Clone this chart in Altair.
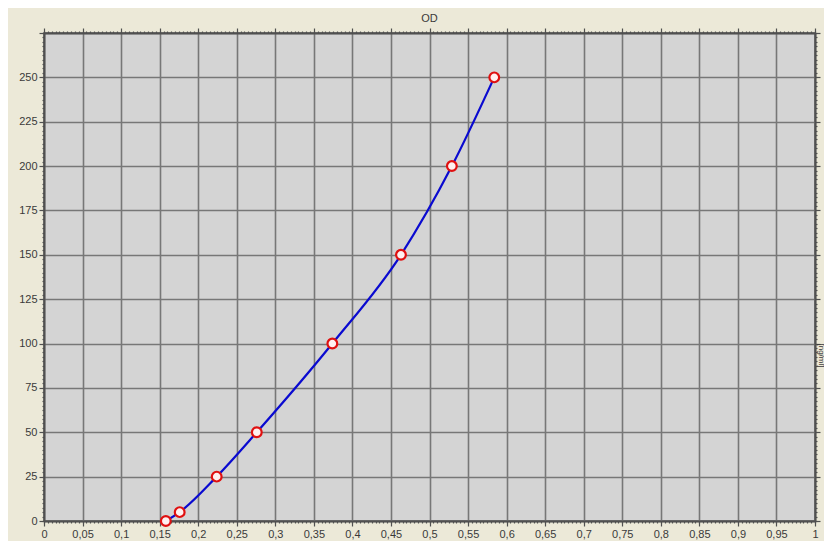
import altair as alt
import pandas as pd

# data
od = [0.158, 0.176, 0.224, 0.276, 0.374, 0.463, 0.529, 0.584]
conc = [0, 5, 25, 50, 100, 150, 200, 250]

x_major = [round(i * 0.05, 2) for i in range(21)]
x_minor = [round(i * 0.005, 3) for i in range(201)]
y_major_all = [i * 25 for i in range(12)]
y_minor = [i * 2.5 for i in range(111)]

df = pd.DataFrame({"od": od, "conc": conc})

GRID = "#777777"
AX = "#505050"
LAB = "#3a3a3a"
FONT = "Liberation Sans"

xs = alt.Scale(domain=[0, 1], nice=False, zero=False)
ys = alt.Scale(domain=[0, 275], nice=False, zero=False)

label_expr = "replace(format(datum.value, '.3~f'), '.', ',')"

base = alt.Chart(df)

main_line = base.mark_line(color="#0a0ad0", strokeWidth=2.2, interpolate="monotone").encode(
    x=alt.X("od:Q", scale=xs, title=None,
            axis=alt.Axis(orient="bottom", values=x_major, labelExpr=label_expr,
                          grid=True, gridColor=GRID, gridWidth=1.6, gridOpacity=1,
                          tickSize=5, tickColor=AX, tickWidth=1.2,
                          domainColor=AX, domainWidth=1.5,
                          labelFont=FONT, labelFontSize=11, labelColor=LAB,
                          labelPadding=2, labelFlush=False)),
    y=alt.Y("conc:Q", scale=ys, title=None,
            axis=alt.Axis(orient="left", values=y_major_all,
                          labelExpr="datum.value > 250 ? '' : datum.value",
                          grid=True, gridColor=GRID, gridWidth=1.6, gridOpacity=1,
                          tickSize=5, tickColor=AX, tickWidth=1.2,
                          domainColor=AX, domainWidth=1.5,
                          labelFont=FONT, labelFontSize=11, labelColor=LAB,
                          labelPadding=2, labelFlush=False)),
)

pts = base.mark_point(shape="circle", size=95, filled=True, fill="#fff0f0",
                      stroke="#e01010", strokeWidth=2.2, opacity=1).encode(
    x=alt.X("od:Q", scale=xs, axis=None),
    y=alt.Y("conc:Q", scale=ys, axis=None),
)


def tick_layer(xorient, yorient, xvals, yvals, size):
    return base.mark_point(opacity=0).encode(
        x=alt.X("od:Q", scale=xs, title=None,
                axis=alt.Axis(orient=xorient, values=xvals, labels=False, grid=False,
                              tickSize=size, tickColor=AX, tickWidth=1.2,
                              domainColor=AX, domainWidth=1.5)),
        y=alt.Y("conc:Q", scale=ys, title=None,
                axis=alt.Axis(orient=yorient, values=yvals, labels=False, grid=False,
                              tickSize=size, tickColor=AX, tickWidth=1.2,
                              domainColor=AX, domainWidth=1.5)),
    )


minor_bl = tick_layer("bottom", "left", x_minor, y_minor, 2)
major_tr = tick_layer("top", "right", x_major, y_major_all, 5)
minor_tr = tick_layer("top", "right", x_minor, y_minor, 2)

right_title = base.mark_point(opacity=0).encode(
    x=alt.X("od:Q", scale=xs, axis=None),
    y=alt.Y("conc:Q", scale=ys, title="[ng/ml]",
            axis=alt.Axis(orient="right", values=[], labels=False, ticks=False, domain=False,
                          grid=False, titleAngle=90, titleFont=FONT, titleFontSize=8,
                          titleFontWeight="normal", titleColor=LAB,
                          titleX=5, titleY=322, titleAlign="center", titleBaseline="middle")),
)

chart = alt.layer(
    main_line, minor_bl, major_tr, minor_tr, right_title, pts
).resolve_axis(x="independent", y="independent").properties(
    width=771, height=488,
    autosize=alt.AutoSizeParams(type="none"),
    padding={"left": 36, "top": 25, "right": 9, "bottom": 20},
    background="#ece9d8",
    title=alt.TitleParams("OD", font=FONT, fontSize=11, fontWeight="normal",
                          color=LAB, anchor="middle", offset=3),
).configure_view(fill="#d4d4d4", stroke=AX, strokeWidth=1.5)

chart.save("out.html", embed_options={"renderer": "svg", "actions": False})
